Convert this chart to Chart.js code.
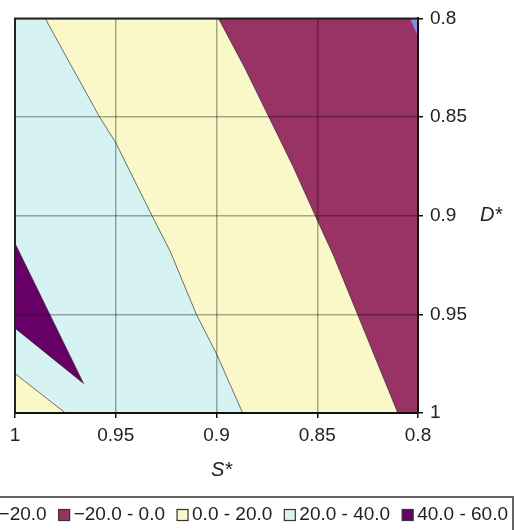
<!DOCTYPE html>
<html>
<head>
<meta charset="utf-8">
<script src="https://cdn.jsdelivr.net/npm/chart.js@4.4.0/dist/chart.umd.min.js"></script>
<style>
  html, body { margin: 0; padding: 0; background: #fff; }
  #wrap { position: relative; width: 516px; height: 530px; }
</style>
</head>
<body>
<div id="wrap"><canvas id="contour"></canvas></div>
<script>
// contour bands
const bandLabels = ['\u221240.0 - \u221220.0', '\u221220.0 - 0.0', '0.0 - 20.0', '20.0 - 40.0', '40.0 - 60.0'];
const bandColors = ['#8c8cdc', '#993366', '#faf8c8', '#d6f2f2', '#660066'];

const sTicks = [1, 0.95, 0.9, 0.85, 0.8];
const dTicks = [0.8, 0.85, 0.9, 0.95, 1];

// 20 contour (20-40 | 0-20)
const line20S = [0.985, 0.971, 0.958, 0.950, 0.932, 0.923, 0.910, 0.900, 0.887];
const line20D = [0.800, 0.826, 0.850, 0.863, 0.900, 0.918, 0.950, 0.970, 1.000];
// 0 contour (0-20 | -20-0)
const line0S = [0.899, 0.886, 0.874, 0.862, 0.851, 0.842, 0.830, 0.820, 0.810];
const line0D = [0.800, 0.825, 0.850, 0.875, 0.900, 0.920, 0.950, 0.975, 1.000];
// -20 corner, top right
const cornerS = [0.804, 0.800, 0.800];
const cornerD = [0.800, 0.800, 0.809];
// 40-60 wedge on the left edge
const wedgeS = [1.000, 0.966, 1.000];
const wedgeD = [0.914, 0.985, 0.957];
// 0-20 corner, bottom left
const lowS = [1.000, 0.975, 1.000];
const lowD = [0.980, 1.000, 1.000];

const sMin = Math.min(...sTicks), sMax = Math.max(...sTicks);
const dMin = Math.min(...dTicks), dMax = Math.max(...dTicks);

function pts(s, d) {
  return s.map((v, i) => ({x: v, y: d[i]}));
}

const edge = 'rgba(40,40,40,0.65)';
function region(data, color, order, bw) {
  return {
    data: data,
    backgroundColor: color,
    borderColor: edge,
    borderWidth: bw,
    fill: 'shape',
    pointRadius: 0,
    tension: 0,
    order: order
  };
}

const font = "'Liberation Sans', Arial, sans-serif";

const frameAndKey = {
  id: 'frameAndKey',
  afterDraw(chart) {
    const ctx = chart.ctx;
    const a = chart.chartArea;
    ctx.save();
    // top + left frame
    ctx.strokeStyle = '#222';
    ctx.lineWidth = 2;
    ctx.beginPath();
    ctx.moveTo(a.left, a.bottom);
    ctx.lineTo(a.left, a.top);
    ctx.lineTo(a.right, a.top);
    ctx.stroke();

    // axis titles
    ctx.fillStyle = '#222';
    ctx.font = 'italic 20px ' + font;
    ctx.textAlign = 'center';
    ctx.textBaseline = 'middle';
    ctx.fillText('S*', (a.left + a.right) / 2 + 5, a.bottom + 57);
    ctx.fillText('D*', a.right + 73, (a.top + a.bottom) / 2);

    // legend
    const rowY = a.bottom + 102;
    ctx.strokeStyle = '#333';
    ctx.lineWidth = 1.5;
    ctx.strokeRect(-5, a.bottom + 84, 518, 45);
    ctx.font = '19px ' + font;
    ctx.textAlign = 'left';
    const sw = 11, gap = 4, itemGap = 12;
    const widths = bandLabels.map(t => sw + gap + ctx.measureText(t).width);
    const total = widths.reduce((p, c) => p + c, 0) + itemGap * (widths.length - 1);
    let x = 508 - total;
    bandLabels.forEach((t, i) => {
      ctx.fillStyle = bandColors[i];
      ctx.fillRect(x, rowY - sw / 2, sw, sw);
      ctx.strokeStyle = '#333';
      ctx.lineWidth = 1.2;
      ctx.strokeRect(x, rowY - sw / 2, sw, sw);
      ctx.fillStyle = '#222';
      ctx.fillText(t, x + sw + gap, rowY);
      x += widths[i] + itemGap;
    });
    ctx.restore();
  }
};

const tickFont = {family: font, size: 19};
const gridOpts = {color: 'rgba(0,0,0,0.33)', lineWidth: 1.5, tickLength: 5, tickColor: '#111', tickWidth: 1.5, z: 1};

new Chart(document.getElementById('contour'), {
  type: 'line',
  data: {
    datasets: [
      region(pts([sMax, sMin, sMin, sMax], [dMin, dMin, dMax, dMax]), bandColors[3], 9, 0),
      region(pts(line20S.concat([sMin, sMin]), line20D.concat([dMax, dMin])), bandColors[2], 8, 1),
      region(pts(line0S.concat([sMin, sMin]), line0D.concat([dMax, dMin])), bandColors[1], 7, 1),
      region(pts(cornerS, cornerD), bandColors[0], 6, 1),
      region(pts(wedgeS, wedgeD), bandColors[4], 5, 1),
      region(pts(lowS, lowD), bandColors[2], 4, 1)
    ]
  },
  options: {
    animation: false,
    responsive: true,
    maintainAspectRatio: false,
    layout: {padding: {left: 15, top: 14, right: 0, bottom: 0}},
    plugins: {legend: {display: false}, tooltip: {enabled: false}},
    scales: {
      x: {
        type: 'linear',
        position: 'bottom',
        min: sMin, max: sMax,
        reverse: true,
        z: 1,
        afterBuildTicks: s => { s.ticks = sTicks.map(v => ({value: v})); },
        afterFit: s => { s.height = 117; },
        ticks: {font: tickFont, color: '#222', padding: 6, maxRotation: 0, autoSkip: false, callback: v => String(v)},
        grid: gridOpts,
        border: {color: '#111', width: 2, z: 2}
      },
      y: {
        type: 'linear',
        position: 'right',
        min: dMin, max: dMax,
        reverse: true,
        z: 1,
        afterBuildTicks: s => { s.ticks = dTicks.map(v => ({value: v})); },
        afterFit: s => { s.width = 98; },
        ticks: {font: tickFont, color: '#222', padding: 7, autoSkip: false, callback: v => String(v)},
        grid: gridOpts,
        border: {color: '#111', width: 2, z: 2}
      }
    }
  },
  plugins: [frameAndKey]
});
</script>
</body>
</html>
